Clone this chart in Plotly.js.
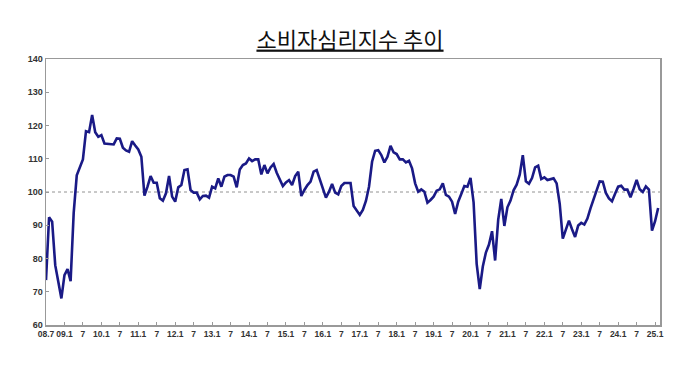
<!DOCTYPE html>
<html>
<head>
<meta charset="utf-8">
<script src="https://cdn.plot.ly/plotly-3.0.1.min.js"></script>
<style>html,body{margin:0;padding:0;background:#fff;}#chart{width:700px;height:380px;}</style>
</head>
<body>
<div id="chart"></div>
<script>
// Consumer Composite Sentiment Index, monthly, 2008.7 - 2025.2
var startYear = 2008, startMonth = 7;
var values = [
  73.5, 92.4, 91.1, 78.0, 73.0, 68.0,
  75.0, 76.8, 73.2, 93.7, 105.0, 107.5, 109.8, 118.3, 118.0, 123.2, 118.0, 116.6,
  117.1, 114.6, 114.5, 114.3, 114.3, 116.1, 116.0, 113.3, 112.5, 112.1, 115.3, 114.0,
  112.8, 110.6, 98.9, 101.6, 104.8, 102.8, 102.8, 98.1, 97.4, 99.6, 104.8, 98.6,
  97.1, 101.4, 102.1, 106.6, 106.8, 100.6, 99.8, 99.8, 97.8, 98.8, 98.9, 98.3,
  101.6, 101.1, 104.1, 101.6, 104.6, 105.1, 105.1, 104.6, 101.4, 106.8, 108.1, 108.6,
  110.1, 109.3, 109.8, 109.8, 105.3, 108.1, 105.6, 107.4, 108.4, 105.8, 103.6, 101.8,
  102.9, 103.6, 102.1, 104.8, 106.1, 98.8, 100.6, 102.1, 103.1, 106.1, 106.6, 103.6,
  101.1, 98.3, 100.1, 102.4, 99.8, 99.3, 101.8, 102.7, 102.7, 102.7, 95.8, 94.3,
  93.1, 94.6, 97.3, 101.6, 109.1, 112.4, 112.6, 111.1, 108.9, 110.6, 113.9, 111.9,
  111.4, 109.8, 109.8, 108.9, 109.4, 107.1, 102.6, 100.1, 100.8, 100.1, 96.8, 97.6,
  98.6, 100.4, 100.8, 102.6, 99.1, 98.6, 97.1, 93.4, 97.1, 99.4, 101.8, 101.6,
  104.2, 96.9, 78.4, 70.8, 77.6, 81.8, 84.2, 88.2, 79.4, 91.6, 97.9, 89.8,
  95.4, 97.4, 100.5, 102.2, 105.2, 111.1, 103.2, 102.5, 104.2, 107.4, 107.9, 103.9,
  104.4, 103.6, 103.9, 104.1, 102.6, 96.4, 86.0, 88.8, 91.4, 88.8, 86.5, 89.9,
  90.7, 90.2, 92.0, 95.1, 98.0, 100.7, 103.2, 103.1, 99.7, 98.1, 97.2, 99.5,
  101.6, 101.9, 100.7, 100.7, 98.4, 100.9, 103.6, 100.8, 100.0, 101.7, 100.7, 88.4,
  91.2, 95.2
];
var months = [];
for (var k = 0; k < values.length; k++) {
  var m = startMonth - 1 + k;
  var y = startYear + Math.floor(m / 12);
  var mm = (m % 12) + 1;
  months.push(y + '.' + (mm < 10 ? '0' + mm : mm));
}
// tick labels every 6 months
var tickVals = [], tickText = [];
for (var k = 0; k < months.length; k++) {
  var parts = months[k].split('.');
  var mm = parseInt(parts[1], 10);
  if (mm === 1 || mm === 7) {
    tickVals.push(months[k]);
    if (k === 0) tickText.push(parts[0].slice(2) + '.' + mm);
    else if (mm === 1) tickText.push(parts[0].slice(2) + '.1');
    else tickText.push('7');
  }
}
var baseline = 100;
var yTicks = [60, 70, 80, 90, 100, 110, 120, 130, 140];

var trace = {
  type: 'scatter', mode: 'lines',
  x: months, y: values,
  line: {color: '#1a1a86', width: 2.6},
  hoverinfo: 'skip'
};
var tickFont = {family: 'Liberation Sans, Arial, sans-serif', size: 9, color: '#333', weight: 'bold'};
var xTickFont = {family: 'Liberation Sans, Arial, sans-serif', size: 8.5, color: '#333', weight: 'bold'};
var layout = {
  width: 700, height: 380,
  margin: {l: 46, r: 40, t: 59, b: 55},
  paper_bgcolor: '#fff', plot_bgcolor: '#fff',
  showlegend: false,
  title: {
    text: '<u>소비자심리지수 추이</u>',
    font: {family: 'Noto Sans CJK KR, sans-serif', size: 22, color: '#111'},
    x: 0.5, xanchor: 'center', y: 0.895, yanchor: 'middle'
  },
  xaxis: {
    type: 'category',
    range: [0, values.length - 0.4],
    tickmode: 'array', tickvals: tickVals, ticktext: tickText,
    tickangle: 0,
    ticks: 'inside', ticklen: 3, tickcolor: '#999', tickwidth: 1,
    showgrid: false, zeroline: false,
    showline: true, linecolor: '#999', linewidth: 1.5, mirror: true,
    tickfont: xTickFont
  },
  yaxis: {
    range: [60, 140],
    tickmode: 'array', tickvals: yTicks,
    ticks: 'inside', ticklen: 3, tickcolor: '#999', tickwidth: 1,
    showgrid: false, zeroline: false,
    showline: true, linecolor: '#999', linewidth: 1.5, mirror: true,
    tickfont: tickFont
  },
  shapes: [{
    type: 'line', xref: 'paper', yref: 'y', x0: 0, x1: 1, y0: baseline, y1: baseline,
    line: {color: '#777', width: 0.8, dash: 'dot'}, layer: 'below'
  }]
};
Plotly.newPlot('chart', [trace], layout, {displayModeBar: false, staticPlot: true});
</script>
</body>
</html>
